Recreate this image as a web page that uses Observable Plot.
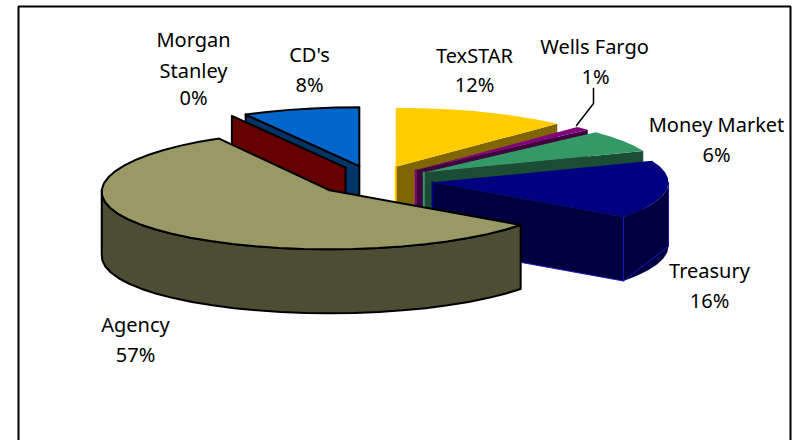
<!DOCTYPE html>
<html>
<head>
<meta charset="utf-8">
<script src="https://cdn.jsdelivr.net/npm/d3@7"></script>
<script src="https://cdn.jsdelivr.net/npm/@observablehq/plot@0.6"></script>
<style>
  html, body { margin: 0; padding: 0; background: #fff; }
  svg { display: block; }
</style>
</head>
<body>
<div id="chart"></div>
<script>
// Portfolio shares, clockwise from twelve o'clock
const names = ["TexSTAR", "Wells Fargo", "Money Market", "Treasury", "Agency", "Morgan Stanley", "CD's"];
const shares = [12, 1, 6, 16, 57, 0, 8];

// Face and side colours, same order as the names
const topColors = ["#FFCC00", "#800080", "#339966", "#000080", "#999966", "#660000", "#0066CC"];
const sideColors = ["#806600", "#400040", "#1A4D33", "#000040", "#4D4D33", "#660000", "#003366"];
const outlined = [false, false, false, false, true, true, true];

// Label lines and where each one sits
const labelLines = ["TexSTAR", "12%", "Wells Fargo", "1%", "Money Market", "6%", "Treasury", "16%", "Agency", "57%", "Morgan", "Stanley", "0%", "CD's", "8%"];
const labelX = [474, 474, 594, 595, 716, 716, 709, 709, 135, 135, 193, 193, 193, 309, 309];
const labelY = [56, 85, 47, 77, 125, 155, 271, 301, 325, 355, 40, 71, 98, 55, 85];

// Pie geometry on the page
const centerX = 373.5, centerY = 180, radius = 236, tilt = 0.25, explode = 59, depth = 64;
const rad = (deg) => deg * Math.PI / 180;

const total = d3.sum(shares);
let running = 0;
const slices = names.map((name, i) => {
  const start = running / total * 360;
  running += shares[i];
  const end = running / total * 360;
  const mid = rad((start + end) / 2);
  return {
    name, start, end, index: i,
    ax: centerX + explode * Math.sin(mid),
    ay: centerY - explode * tilt * Math.cos(mid)
  };
});

// The far-left rim of the large slice pulls in slightly, as the perspective does
const rimPoint = (s, deg, drop = 0) => {
  const t = rad(deg), sn = Math.sin(t), cs = Math.cos(t);
  const pull = s.name === "Agency" && sn < 0 ? sn * sn * (8 + 6 * cs) : 0;
  return { x: s.ax + radius * sn + pull, y: s.ay - radius * tilt * cs + drop };
};
const arc = (s, from, to, drop = 0) => {
  const pts = [];
  const n = Math.max(1, Math.round((to - from) / 6));
  for (let i = 0; i <= n; i++) pts.push(rimPoint(s, from + (to - from) * i / n, drop));
  return pts;
};
const closed = (pts) => [...pts, pts[0]];

// Turns one slice into the faces that can be seen, back to front
function sliceMarks(s) {
  const marks = [];
  const fill = topColors[s.index], side = sideColors[s.index];
  const line = outlined[s.index] ? { stroke: "#000", strokeWidth: 2 } : { stroke: "none" };
  const apex = { x: s.ax, y: s.ay }, apexLow = { x: s.ax, y: s.ay + depth };
  const draw = (pts, color) => marks.push(Plot.line(closed(pts), { x: "x", y: "y", fill: color, ...line }));

  if (Math.sin(rad(s.start)) < -1e-6) {
    draw([apex, rimPoint(s, s.start), rimPoint(s, s.start, depth), apexLow], side);
  }
  if (Math.sin(rad(s.end)) > 1e-6) {
    draw([apex, rimPoint(s, s.end), rimPoint(s, s.end, depth), apexLow], side);
  }
  const wallFrom = Math.max(s.start, 90), wallTo = Math.min(s.end, 270);
  if (wallTo > wallFrom) {
    draw([...arc(s, wallFrom, wallTo), ...arc(s, wallFrom, wallTo, depth).reverse()], side);
  }
  if (Math.sin(rad(s.start)) >= -1e-6 && !outlined[s.index]) {
    marks.push(Plot.line([apex, apexLow], { x: "x", y: "y", stroke: fill, strokeWidth: 2 }));
  }
  if (s.name === "Treasury") {
    const trim = { x: "x", y: "y", stroke: "#1818B8", strokeWidth: 1 };
    marks.push(Plot.line([apexLow, ...arc(s, s.end, 90, depth), rimPoint(s, 90)], trim));
    marks.push(Plot.line([rimPoint(s, s.end), rimPoint(s, s.end, depth)], trim));
  }
  if (s.end > s.start) {
    draw([apex, ...arc(s, s.start, s.end)], fill);
  }
  return marks;
}

const drawOrder = ["CD's", "Morgan Stanley", "TexSTAR", "Wells Fargo", "Money Market", "Treasury", "Agency"];
const sliceLayers = drawOrder.flatMap((n) => sliceMarks(slices.find((s) => s.name === n)));

// Open-bottomed chart border and the Wells Fargo leader line
const border = [{ x: 18, y: 440 }, { x: 18, y: 6 }, { x: 790, y: 6 }, { x: 790, y: 440 }];
const leader = [{ x: 593, y: 88 }, { x: 593, y: 103 }, { x: 576, y: 125 }];

const labels = labelLines.map((text, i) => ({ text, x: labelX[i], y: labelY[i] }));

const chart = Plot.plot({
  width: 792,
  height: 440,
  margin: 0,
  x: { domain: [0, 792], range: [0, 792], axis: null },
  y: { domain: [0, 440], range: [0, 440], axis: null },
  style: { background: "#fff" },
  marks: [
    Plot.line(border, { x: "x", y: "y", stroke: "#000", strokeWidth: 2, strokeLinejoin: "miter" }),
    ...sliceLayers,
    Plot.line(leader, { x: "x", y: "y", stroke: "#000", strokeWidth: 1.5 }),
    Plot.text(labels, {
      x: "x", y: "y", text: "text",
      fontFamily: "Noto Sans", fontSize: 20, fill: "#000",
      textAnchor: "middle", lineAnchor: "middle"
    })
  ]
});
document.getElementById("chart").append(chart);
</script>
</body>
</html>
